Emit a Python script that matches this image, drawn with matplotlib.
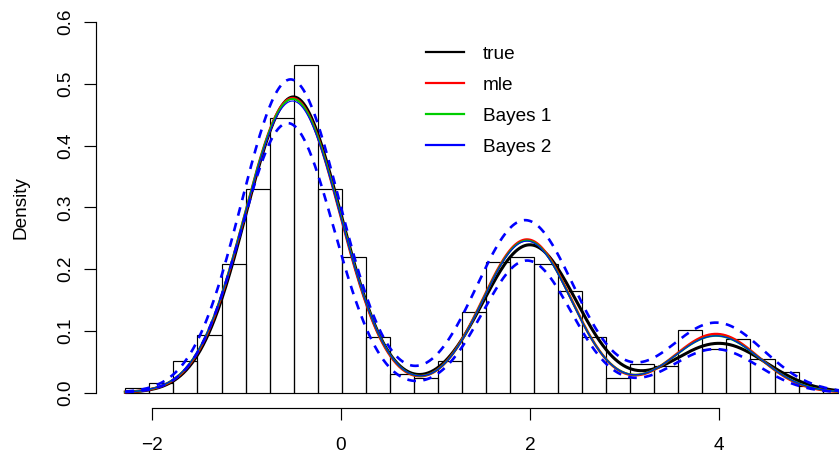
import numpy as np
import matplotlib
matplotlib.use("Agg")
import matplotlib.pyplot as plt

# histogram of the sample (density scale)
bin_left = -2.278
bin_width = 0.2543
density = [0.008, 0.016, 0.052, 0.094, 0.208, 0.330, 0.444, 0.530, 0.330, 0.220,
           0.090, 0.031, 0.023, 0.051, 0.130, 0.212, 0.219, 0.208, 0.165, 0.090,
           0.024, 0.047, 0.043, 0.102, 0.0705, 0.087, 0.055, 0.033, 0.011, 0.004]

# three component normal mixtures: weights, means, sds
true_w, true_mu, true_sd = [0.60, 0.30, 0.10], [-0.50, 2.00, 4.00], [0.50, 0.50, 0.50]
mle_w, mle_mu, mle_sd = [0.601, 0.292, 0.107], [-0.51, 1.97, 3.97], [0.503, 0.47, 0.45]
b1_w, b1_mu, b1_sd = [0.603, 0.290, 0.106], [-0.51, 1.97, 3.97], [0.506, 0.47, 0.46]
b2_w, b2_mu, b2_sd = [0.600, 0.289, 0.106], [-0.51, 1.97, 3.97], [0.507, 0.47, 0.46]
# pointwise band for Bayes 2
up_w, up_mu, up_sd = [0.661, 0.364, 0.142], [-0.53, 1.95, 3.97], [0.52, 0.52, 0.50]
lo_w, lo_mu, lo_sd = [0.536, 0.252, 0.0813], [-0.56, 1.97, 3.96], [0.49, 0.47, 0.46]

labels = ["true", "mle", "Bayes 1", "Bayes 2"]
colors = ["black", "#ff0000", "#00cd00", "#0000ff"]


def dmix(x, w, mu, sd):
    out = np.zeros_like(x)
    for wi, mi, si in zip(w, mu, sd):
        out += wi * np.exp(-0.5 * ((x - mi) / si) ** 2) / (si * np.sqrt(2 * np.pi))
    return out


plt.rcParams['font.family'] = ['Liberation Sans', 'DejaVu Sans']
plt.rcParams['font.size'] = 13.7

W, H = 839, 457
fig = plt.figure(figsize=(W / 100, H / 100), dpi=100)
ax = fig.add_axes([96.3 / W, 1 - 407.5 / H, (W - 96.3) / W, (407.5 - 7.2) / H])

edges = bin_left + bin_width * np.arange(len(density))
ax.bar(edges, density, width=bin_width, align='edge', facecolor='none',
       edgecolor='black', linewidth=0.85, zorder=1)

xs = np.linspace(bin_left, bin_left + bin_width * len(density) + 0.3, 800)
ax.plot(xs, dmix(xs, true_w, true_mu, true_sd), color=colors[0], lw=2.2, zorder=2)
ax.plot(xs, dmix(xs, mle_w, mle_mu, mle_sd), color=colors[1], lw=1.9, zorder=3)
ax.plot(xs, dmix(xs, b1_w, b1_mu, b1_sd), color=colors[2], lw=1.4, zorder=4)
ax.plot(xs, dmix(xs, b2_w, b2_mu, b2_sd), color=colors[3], lw=0.8, zorder=5)
ax.plot(xs, dmix(xs, up_w, up_mu, up_sd), color=colors[3], lw=1.9,
        ls=(0, (3.3, 2.8)), zorder=6)
ax.plot(xs, dmix(xs, lo_w, lo_mu, lo_sd), color=colors[3], lw=1.9,
        ls=(0, (3.3, 2.8)), zorder=6)

ax.set_xlim(-2.585, 5.270)
ax.set_ylim(-0.024, 0.624)
ax.set_xticks([-2, 0, 2, 4])
ax.set_xticklabels(["\u22122", "0", "2", "4"])
ax.set_yticks([0.0, 0.1, 0.2, 0.3, 0.4, 0.5, 0.6])
ax.set_yticklabels(["0.0", "0.1", "0.2", "0.3", "0.4", "0.5", "0.6"],
                   rotation=90, va='center')
for s in ['top', 'right']:
    ax.spines[s].set_visible(False)
ax.spines['bottom'].set_bounds(-2, 4)
ax.spines['left'].set_bounds(0, 0.6)
ax.spines['bottom'].set_linewidth(0.85)
ax.spines['left'].set_linewidth(0.85)
ax.tick_params(axis='x', length=8.3, width=0.85, pad=13)
ax.tick_params(axis='y', length=8.3, width=0.85, pad=7.3)
ax.set_ylabel("Density", labelpad=20.5)

handles = [plt.Line2D([], [], color=c, lw=1.6) for c in colors]
ax.legend(handles, labels, loc='upper left', bbox_to_anchor=(425.7 / W, 1 - 45.7 / H),
          bbox_transform=fig.transFigure, frameon=False, borderpad=0,
          borderaxespad=0, handlelength=2.03, handletextpad=0.97,
          labelspacing=0.715)

fig.savefig("out.png", dpi=100)
